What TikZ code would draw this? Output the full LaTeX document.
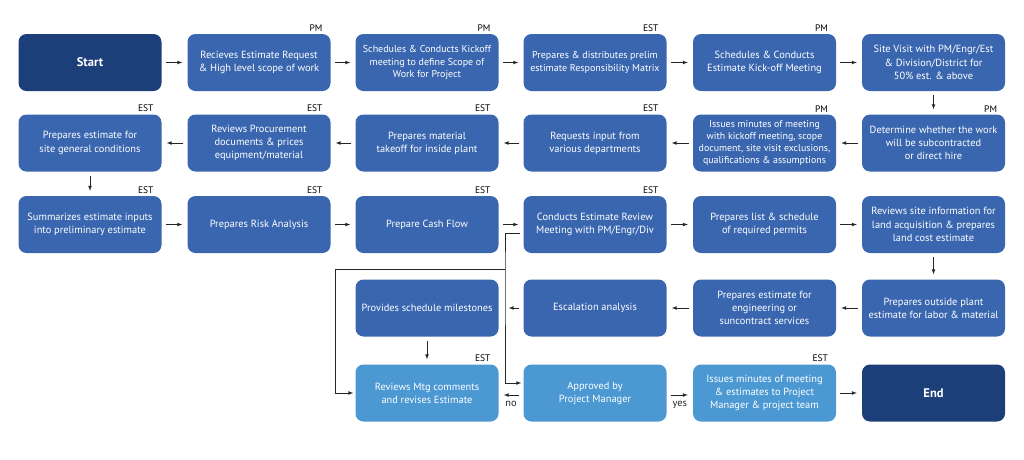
\documentclass[tikz,border=0pt]{standalone}
\usepackage{fontspec}
\setmainfont{PT Sans}
\usepackage{tikz}
\usepackage{xcolor}

\definecolor{stepblue}{RGB}{58,102,175}
\definecolor{endblue}{RGB}{28,63,122}
\definecolor{reviewblue}{RGB}{75,152,211}

\begin{document}
\begin{tikzpicture}[x=1pt, y=-1pt, >=latex, font=\fontsize{10.4}{13.2}\selectfont,
  box/.style={rounded corners=8pt, fill=stepblue, text=white, align=center,
    minimum width=143pt, minimum height=57pt, inner sep=2pt},
  term/.style={box, fill=endblue, font=\fontsize{12.5}{15}\selectfont\bfseries},
  lightbox/.style={box, fill=reviewblue},
  roletag/.style={anchor=south east, xshift=-7pt, yshift=1pt, inner sep=1pt,
    text=black, font=\fontsize{9.5}{11}\selectfont},
  tagged/.style={label={[roletag]north east:#1}},
  flow/.style={->, black!85, line width=0.7pt, shorten <=4pt, shorten >=5pt},
  loopline/.style={->, black!85, line width=0.7pt, shorten <=3pt, shorten >=2pt}]
  \useasboundingbox (0,0) rectangle (1024,459);
  % === Rada 1 ===
  \node[term] (start) at (90,62.5) {Start};
  \node[box, tagged=PM] (request) at (259,62.5)
    {Recieves Estimate Request\\ \& High level scope of work};
  \node[box, tagged=PM, font=\fontsize{10}{12.8}\selectfont] (kickoff) at (427,62.5)
    {Schedules \& Conducts Kickoff\\ meeting to define Scope of\\ Work for Project};
  \node[box, tagged=EST, font=\fontsize{10}{12.8}\selectfont] (matrix) at (595,62.5)
    {Prepares \& distributes prelim\\ estimate Responsibility Matrix};
  \node[box, tagged=PM] (estkick) at (764.5,62.5)
    {Schedules \& Conducts\\ Estimate Kick-off Meeting};
  \node[box] (sitevisit) at (933.5,62.5)
    {Site Visit with PM/Engr/Est\\ \& Division/District for\\ 50\% est. \& above};
  % === Rada 2 ===
  \node[box, tagged=PM] (hire) at (933.5,143)
    {Determine whether the work\\ will be subcontracted\\ or direct hire};
  \node[box, tagged=PM, font=\fontsize{9.9}{12.3}\selectfont] (minutes) at (764.5,143)
    {Issues minutes of meeting\\ with kickoff meeting, scope\\ document, site visit exclusions,\\ qualifications \& assumptions};
  \node[box, tagged=EST] (depts) at (595,143)
    {Requests input from\\ various departments};
  \node[box, tagged=EST] (takeoff) at (427,143)
    {Prepares material\\ takeoff for inside plant};
  \node[box, tagged=EST] (procure) at (259,143)
    {Reviews Procurement\\ documents \& prices\\ equipment/material};
  \node[box, tagged=EST] (siteconds) at (90,143)
    {Prepares estimate for\\ site general conditions};
  % === Rada 3 ===
  \node[box, tagged=EST] (summary) at (90,224.5)
    {Summarizes estimate inputs\\ into preliminary estimate};
  \node[box, tagged=EST] (risk) at (259,224.5) {Prepares Risk Analysis};
  \node[box, tagged=EST] (cash) at (427,224.5) {Prepare Cash Flow};
  \node[box, tagged=EST] (review) at (595,224.5)
    {Conducts Estimate Review\\ Meeting with PM/Engr/Div};
  \node[box] (permits) at (764.5,224.5)
    {Prepares list \& schedule\\ of required permits};
  \node[box] (land) at (933.5,224.5)
    {Reviews site information for\\ land acquisition \& prepares\\ land cost estimate};
  % === Rada 4 ===
  \node[box] (outside) at (933.5,308)
    {Prepares outside plant\\ estimate for labor \& material};
  \node[box] (engineering) at (764.5,308)
    {Prepares estimate for\\ engineering or\\ suncontract services};
  \node[box] (escalation) at (595,308) {Escalation analysis};
  \node[box] (milestones) at (427,308) {Provides schedule milestones};
  % === Rada 5 ===
  \node[lightbox, tagged=EST] (revise) at (427,393)
    {Reviews Mtg comments\\ and revises Estimate};
  \node[lightbox] (approved) at (595,393) {Approved by\\ Project Manager};
  \node[lightbox, tagged=EST] (issue) at (764.5,393)
    {Issues minutes of meeting\\ \& estimates to Project\\ Manager \& project team};
  \node[term] (finish) at (933.5,393) {End};
  % === Sipky ===
  \draw[flow] (start) -- (request);
  \draw[flow] (request) -- (kickoff);
  \draw[flow] (kickoff) -- (matrix);
  \draw[flow] (matrix) -- (estkick);
  \draw[flow] (estkick) -- (sitevisit);
  \draw[flow] (sitevisit) -- (hire);
  \draw[flow] (hire) -- (minutes);
  \draw[flow] (minutes) -- (depts);
  \draw[flow] (depts) -- (takeoff);
  \draw[flow] (takeoff) -- (procure);
  \draw[flow] (procure) -- (siteconds);
  \draw[flow] (siteconds) -- (summary);
  \draw[flow] (summary) -- (risk);
  \draw[flow] (risk) -- (cash);
  \draw[flow] (cash) -- (review);
  \draw[flow] (review) -- (permits);
  \draw[flow] (permits) -- (land);
  \draw[flow] (land) -- (outside);
  \draw[flow] (outside) -- (engineering);
  \draw[flow] (engineering) -- (escalation);
  \draw[flow, shorten >=10pt] (escalation) -- (milestones);
  \draw[flow] (milestones) -- (revise);
  \draw[flow] ([yshift=-2pt]approved.west) -- node[below=2pt] {no} ([yshift=-2pt]revise.east);
  \draw[flow] ([yshift=-2pt]approved.east) -- node[below=2pt] {yes} ([yshift=-2pt]issue.west);
  \draw[flow] (issue) -- (finish);
  % === Smycka po revizi ===
  \coordinate (split) at (505,269);
  \coordinate (loopturn) at (335,269);
  \draw[loopline] ([yshift=-8.5pt]review.west) -| (split) |- ([yshift=10pt]approved.west);
  \draw[loopline, shorten <=0pt] (split) -- (loopturn) |- (revise.west);
\end{tikzpicture}
\end{document}
